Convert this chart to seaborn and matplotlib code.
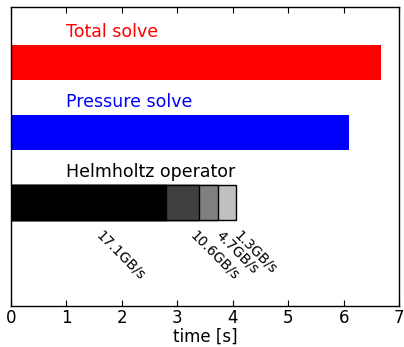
import numpy as np
import matplotlib
matplotlib.use("Agg")
import matplotlib.pyplot as plt
import seaborn as sns

# data
names = ["Total solve", "Pressure solve", "Helmholtz operator"]
totals = [6.68, 6.09]
label_colors = ["red", "blue", "black"]
seg_times = [2.80, 0.60, 0.34, 0.32]
seg_colors = ["black", "#404040", "#808080", "#c0c0c0"]
bandwidth = ["17.1GB/s", "10.6GB/s", "4.7GB/s", "1.3GB/s"]

sns.set_style("white")
plt.rcParams['font.family'] = ['DejaVu Sans']
plt.rcParams['text.color'] = 'black'
plt.rcParams['axes.labelcolor'] = 'black'
plt.rcParams['xtick.color'] = 'black'

fig = plt.figure(figsize=(4.04, 3.47), dpi=100)
ax = fig.add_axes([0.027, 0.118, 0.961, 0.862])

# single bars
sns.barplot(x=totals, y=names[:2], order=names, hue=names[:2],
            palette=label_colors[:2], orient='h', width=0.5,
            saturation=1, linewidth=0, legend=False, ax=ax)

# stacked helmholtz bar, drawn largest first
cum = np.cumsum(seg_times)
for i in reversed(range(len(seg_times))):
    sns.barplot(x=[cum[i]], y=[names[2]], order=names, orient='h',
                width=0.5, color=seg_colors[i], saturation=1,
                edgecolor='black', linewidth=1, ax=ax)

for i, n in enumerate(names):
    ax.text(1.0, i - 0.31, n, color=label_colors[i], fontsize=12.5,
            ha='left', va='bottom')

starts = cum - np.array(seg_times)
for i, b in enumerate(bandwidth):
    mid = starts[i] + seg_times[i] / 2
    ax.text(mid + 0.08, 2.36, b, rotation=-45, ha='left', va='top',
            fontsize=10, color='black')

ax.set_xlim(0, 7)
ax.set_ylim(3.48, -0.8)
ax.set_yticks([])
ax.set_ylabel("")
ax.set_xlabel("time [s]", fontsize=12, labelpad=1)
ax.tick_params(axis='x', direction='in', top=True, bottom=True,
               length=4, labelsize=12, pad=2)
for s in ax.spines.values():
    s.set_color('black')
    s.set_linewidth(1)

fig.savefig("out.png", dpi=100)
